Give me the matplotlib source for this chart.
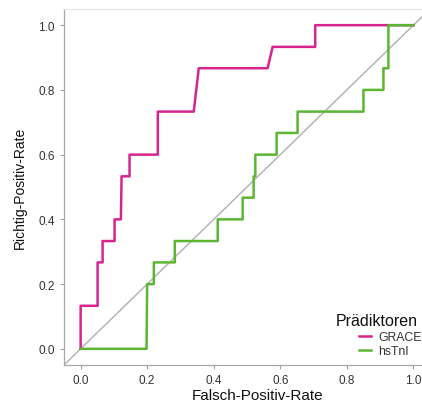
import matplotlib.pyplot as plt

# ROC-Kurven (Falsch-Positiv-Rate, Richtig-Positiv-Rate)
grace_fpr = [0, 0, 0.051, 0.051, 0.066, 0.066, 0.102, 0.102, 0.121, 0.123,
             0.147, 0.147, 0.232, 0.232, 0.34, 0.355, 0.562, 0.577, 0.705, 0.705, 1.0]
grace_tpr = [0, 0.133, 0.133, 0.267, 0.267, 0.333, 0.333, 0.4, 0.4, 0.533,
             0.533, 0.6, 0.6, 0.733, 0.733, 0.867, 0.867, 0.933, 0.933, 1.0, 1.0]

hstni_fpr = [0, 0.198, 0.2, 0.22, 0.22, 0.283, 0.283, 0.412, 0.412, 0.487, 0.487,
             0.52, 0.52, 0.525, 0.525, 0.589, 0.589, 0.652, 0.652, 0.85, 0.85,
             0.91, 0.91, 0.925, 0.925, 1.0]
hstni_tpr = [0, 0, 0.2, 0.2, 0.267, 0.267, 0.333, 0.333, 0.4, 0.4, 0.467,
             0.467, 0.533, 0.533, 0.6, 0.6, 0.667, 0.667, 0.733, 0.733, 0.8,
             0.8, 0.867, 0.867, 1.0, 1.0]

ticks = [0.0, 0.2, 0.4, 0.6, 0.8, 1.0]

plt.rcParams['font.family'] = ['Liberation Sans', 'DejaVu Sans']

fig = plt.figure(figsize=(4.22, 4.06), dpi=100)
ax = fig.add_axes([64 / 422, 40 / 406, 366 / 422, 356 / 406])

ax.plot([-0.05, 1.05], [-0.05, 1.05], color='#b5b5b5', lw=1.1, zorder=1)
ax.plot(grace_fpr, grace_tpr, color='#d6258f', lw=1.8, label='GRACE', zorder=2)
ax.plot(hstni_fpr, hstni_tpr, color='#5cb533', lw=1.8, label='hsTnI', zorder=3)

ax.set_xlim(-0.05, 1.05)
ax.set_ylim(-0.05, 1.05)
ax.set_xticks(ticks)
ax.set_yticks(ticks)
ax.set_xticklabels([f'{t:.1f}' for t in ticks])
ax.set_yticklabels([f'{t:.1f}' for t in ticks])
ax.tick_params(colors='#a0a0a0', labelcolor='#333333', labelsize=8.5, length=3, width=0.8)

ax.spines['right'].set_visible(False)
ax.spines['top'].set_color('#e6e6e6')
ax.spines['top'].set_linewidth(0.8)
for s in ['left', 'bottom']:
    ax.spines[s].set_color('#a8a8a8')
    ax.spines[s].set_linewidth(0.9)

fig.text(20 / 422, 1 - 188 / 406, 'Richtig-Positiv-Rate', fontsize=10,
         color='#111111', ha='center', va='center', rotation=90)
fig.text(258 / 422, 1 - 396 / 406, 'Falsch-Positiv-Rate', fontsize=11,
         color='#111111', ha='center', va='center')

fig.text(336 / 422, 1 - 322 / 406, 'Prädiktoren', fontsize=11.5,
         color='#111111', ha='left', va='center')
leg = ax.legend(loc='upper left', bbox_to_anchor=(359 / 422, 1 - 332 / 406),
                bbox_transform=fig.transFigure,
                frameon=False, fontsize=8.8, handlelength=1.0,
                handletextpad=0.6, labelspacing=0.15,
                borderaxespad=0, borderpad=0)
for t in leg.get_texts():
    t.set_color('#333333')

fig.savefig('out.png', dpi=100)
